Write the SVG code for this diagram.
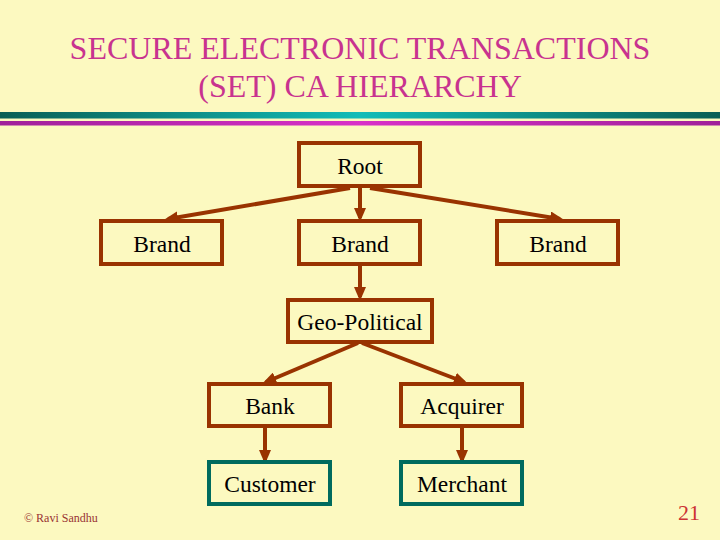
<svg xmlns="http://www.w3.org/2000/svg" width="720" height="540" viewBox="0 0 720 540" font-family="Liberation Serif, Times New Roman, serif">
<style>
.bg{fill:#FCF9C0}
.title{font-size:32px;fill:#C8338F;text-anchor:middle}
.box{fill:none;stroke:#993300;stroke-width:4}
.box.leaf{stroke:#006B5E}
.lbl{font-size:23.5px;fill:#000;text-anchor:middle}
.conn{stroke:#993300;stroke-width:4;fill:none;marker-end:url(#ah)}
.foot{font-size:12px;fill:#993333}
.num{font-size:22px;fill:#CC3333}
</style>
<defs>
<marker id="ah" markerWidth="3.5" markerHeight="3" refX="2.5" refY="1.5" orient="auto" markerUnits="strokeWidth">
<path d="M0,0 L3.5,1.5 L0,3 z" fill="#993300"/>
</marker>
<linearGradient id="tg" x1="0" x2="1" y1="0" y2="0">
<stop offset="0" stop-color="#0A5E55"/>
<stop offset="0.5" stop-color="#12BCB8"/>
<stop offset="1" stop-color="#0A5E55"/>
</linearGradient>
<linearGradient id="mg" x1="0" x2="1" y1="0" y2="0">
<stop offset="0" stop-color="#A0209A"/>
<stop offset="0.5" stop-color="#D830C8"/>
<stop offset="1" stop-color="#A0209A"/>
</linearGradient>
</defs>
<rect class="bg" x="0" y="0" width="720" height="540"/>
<text class="title" x="360" y="59">SECURE ELECTRONIC TRANSACTIONS</text>
<text class="title" x="360" y="97">(SET) CA HIERARCHY</text>
<rect x="0" y="112" width="720" height="6.5" fill="url(#tg)"/>
<rect x="0" y="121" width="720" height="4.5" fill="url(#mg)"/>
<g id="connectors">
<line class="conn" x1="350" y1="188" x2="168" y2="219"/>
<line class="conn" x1="360" y1="188" x2="360" y2="218"/>
<line class="conn" x1="370" y1="188" x2="560" y2="219"/>
<line class="conn" x1="360" y1="264" x2="360" y2="297"/>
<line class="conn" x1="358" y1="343" x2="266" y2="382"/>
<line class="conn" x1="362" y1="343" x2="464" y2="382"/>
<line class="conn" x1="265" y1="427" x2="265" y2="460"/>
<line class="conn" x1="462" y1="427" x2="462" y2="460"/>
</g>
<g id="root"><rect class="box" x="299" y="143" width="121" height="43"/><text class="lbl" x="360" y="174">Root</text></g>
<g id="brand1"><rect class="box" x="101" y="221" width="121" height="43"/><text class="lbl" x="162" y="252">Brand</text></g>
<g id="brand2"><rect class="box" x="299" y="221" width="121" height="43"/><text class="lbl" x="360" y="252">Brand</text></g>
<g id="brand3"><rect class="box" x="497" y="221" width="121" height="43"/><text class="lbl" x="558" y="252">Brand</text></g>
<g id="geo"><rect class="box" x="288" y="300" width="144" height="42"/><text class="lbl" x="360" y="330">Geo-Political</text></g>
<g id="bank"><rect class="box" x="209" y="384" width="121" height="42"/><text class="lbl" x="270" y="414">Bank</text></g>
<g id="acquirer"><rect class="box" x="401" y="384" width="121" height="42"/><text class="lbl" x="462" y="414">Acquirer</text></g>
<g id="customer"><rect class="box leaf" x="209" y="462" width="121" height="42"/><text class="lbl" x="270" y="492">Customer</text></g>
<g id="merchant"><rect class="box leaf" x="401" y="462" width="121" height="42"/><text class="lbl" x="462" y="492">Merchant</text></g>
<text class="foot" x="24" y="522">© Ravi Sandhu</text>
<text class="num" x="678" y="520">21</text>
</svg>
